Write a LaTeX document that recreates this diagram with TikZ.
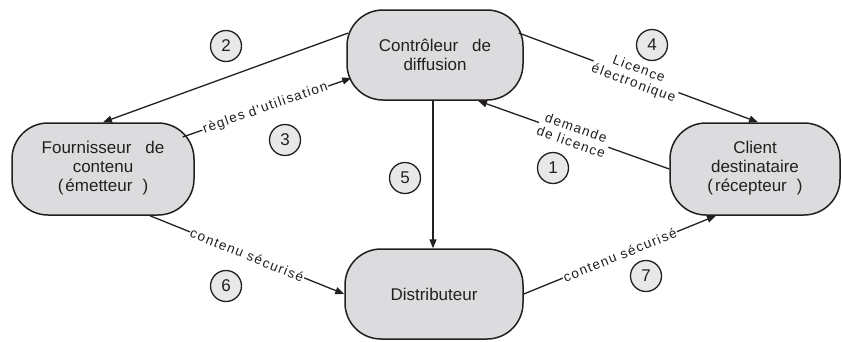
\documentclass[tikz,border=0pt]{standalone}
\usepackage{fontspec}
\setmainfont{Liberation Sans}
\newfontfamily\lblfont[LetterSpace=10]{Liberation Sans}
\usetikzlibrary{arrows.meta}
\definecolor{ink}{HTML}{231F20}
\definecolor{boxfill}{HTML}{DCDCDE}
\definecolor{circfill}{HTML}{E8E8E8}
\begin{document}
\begin{tikzpicture}[x=1pt,y=-1pt,
 box/.style={draw=ink, line width=1.5pt, fill=boxfill, rounded corners=36pt, align=center,
   font=\fontsize{17}{19}\selectfont, text=ink, inner sep=0pt},
 num/.style={circle, draw=ink, line width=1.3pt, fill=circfill, minimum size=31pt, inner sep=0pt,
   font=\fontsize{17}{19}\selectfont, text=ink},
 conn/.style={draw=ink, line width=1.3pt, -{Triangle[length=9pt,width=7pt]}},
 lbl/.style={sloped, fill=white, inner sep=1pt, font=\lblfont\fontsize{13.5}{15}\selectfont,
   text=ink, align=center}]
\useasboundingbox (0,0) rectangle (842,341);
\fill[white] (0,0) rectangle (842,341);
% nodes
\node[box, minimum width=176pt, minimum height=90pt] (ctrl) at (435,55)
  {Contrôleur\hspace{14pt}de\\diffusion};
\node[box, minimum width=182pt, minimum height=92pt] (four) at (103,169)
  {\raisebox{-5pt}{\begin{tabular}{@{}c@{}}Fournisseur\hspace{14pt}de\\contenu\\(\hspace{2pt}émetteur\hspace{10pt})\end{tabular}}};
\node[box, minimum width=178pt, minimum height=90pt] (dist) at (434,294)
  {Distributeur};
\node[box, minimum width=170pt, minimum height=92pt] (client) at (755,169)
  {\raisebox{-5pt}{\begin{tabular}{@{}c@{}}Client\\destinataire\\(\hspace{2pt}récepteur\hspace{10pt})\end{tabular}}};
% connectors
\draw[conn] ([shift={(2,-22)}]ctrl.west) -- (four.north);
\draw[conn] ([shift={(-12,-32)}]four.east) -- node[lbl, pos=0.49] {règles d'utilisation} ([shift={(5,23)}]ctrl.west);
\draw[conn] ([shift={(-5,-22)}]ctrl.east) -- node[lbl, pos=0.49] {Licence\\électronique} ([xshift=3pt]client.north);
\draw[conn] (client.west) -- node[lbl, pos=0.5] {demande\\de licence} ([shift={(43,0)}]ctrl.south);
\draw[conn] ([xshift=-2pt]ctrl.south) -- ([xshift=-1pt]dist.north);
\draw[conn] ([shift={(47,0)}]four.south) -- node[lbl, pos=0.5] {contenu sécurisé} (dist.west);
\draw[conn] (dist.east) -- node[lbl, pos=0.5] {contenu sécurisé} ([shift={(-39,0)}]client.south);
% numbers
\node[num] (n1) at (553,168) {1};
\node[num] (n2) at (226,46) {2};
\node[num] (n3) at (285,140) {3};
\node[num] (n4) at (652,45) {4};
\node[num] (n5) at (405,178) {5};
\node[num] (n6) at (226,286) {6};
\node[num] (n7) at (646,276) {7};
\end{tikzpicture}
\end{document}
